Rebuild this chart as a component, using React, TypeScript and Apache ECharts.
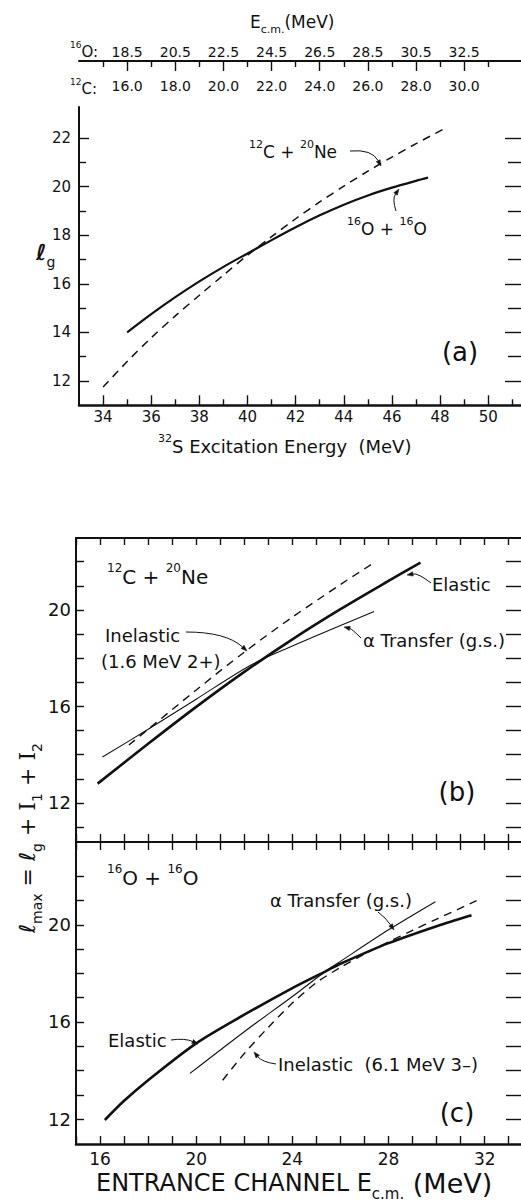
import React, { useEffect, useRef } from "react";
import * as echarts from "echarts";

const INK = "#111";
const FONT = "DejaVu Sans";

// ---------- Panel (a): l_g vs 32S excitation energy ----------
const aExO16 = [35, 36, 37, 38, 39, 40, 41, 42, 43, 44, 45, 46, 47, 47.5];
const aLgO16 = [14.0, 14.75, 15.45, 16.1, 16.7, 17.25, 17.8, 18.33, 18.82, 19.26, 19.64, 19.96, 20.24, 20.37];
const aExC12 = [34, 35, 36, 37, 38, 39, 40, 41, 42, 43, 44, 45, 46, 47, 48.2];
const aLgC12 = [11.75, 12.8, 13.78, 14.68, 15.53, 16.36, 17.18, 17.94, 18.68, 19.37, 20.02, 20.64, 21.22, 21.77, 22.4];

const aXMajor = [34, 36, 38, 40, 42, 44, 46, 48, 50];
const aXMinor = [35, 37, 39, 41, 43, 45, 47, 49, 51];
const aYMajor = [12, 14, 16, 18, 20, 22];
const aYMinor = [13, 15, 17, 19, 21];
const ecmTickEx = [35, 37, 39, 41, 43, 45, 47, 49];
const ecmShortEx = [34, 36, 38, 40, 42, 44, 46, 48, 50];
const ecmO16Labels = ["18.5", "20.5", "22.5", "24.5", "26.5", "28.5", "30.5", "32.5"];
const ecmC12Labels = ["16.0", "18.0", "20.0", "22.0", "24.0", "26.0", "28.0", "30.0"];

// ---------- Panel (b): 12C + 20Ne ----------
const bElE = [15.9, 18, 20, 22, 24, 26, 28, 29.33];
const bElL = [12.8, 14.45, 15.98, 17.43, 18.78, 20.03, 21.2, 21.96];
const bInE = [17.2, 18, 20, 22, 24, 26, 27.4];
const bInL = [14.4, 15.05, 16.68, 18.25, 19.7, 21.05, 21.96];
const bAlE = [16.1, 18, 20, 22.28, 24, 26, 27.4];
const bAlL = [13.9, 15.05, 16.3, 17.72, 18.5, 19.35, 19.93];

// ---------- Panel (c): 16O + 16O ----------
const cElE = [16.2, 17, 18, 20, 22, 24, 25.4, 26, 28, 30, 31.45];
const cElL = [11.96, 12.75, 13.6, 15.12, 16.3, 17.4, 18.1, 18.4, 19.25, 19.95, 20.4];
const cAlE = [19.74, 22, 24, 25.4, 26, 28, 29.95];
const cAlL = [13.88, 15.6, 17.05, 18.1, 18.5, 19.8, 20.96];
const cInE = [21.1, 22, 23, 24, 25, 26, 27, 28, 29, 30, 31.66];
const cInL = [13.6, 14.7, 15.78, 16.78, 17.62, 18.25, 18.8, 19.3, 19.78, 20.24, 21.0];

const bcXTicks = [15, 16, 17, 18, 19, 20, 21, 22, 23, 24, 25, 26, 27, 28, 29, 30, 31, 32, 33];
const cXLabels = [16, 20, 24, 28, 32];
const bYTicks = [11, 12, 13, 14, 15, 16, 17, 18, 19, 20, 21, 22];
const cYTicks = [12, 13, 14, 15, 16, 17, 18, 19, 20, 21, 22];
const bcYLabels = [12, 16, 20];

const pairs = (xs: number[], ys: number[]) => xs.map((x, i) => [x, ys[i]]);

const tick = (vals: number[], len: number) => ({
  show: true,
  inside: true,
  length: len,
  customValues: vals,
  lineStyle: { color: INK, width: 1.4 },
});
const label = (vals: number[], F: number, margin: number, extra: any = {}) => ({
  show: true,
  customValues: vals,
  fontSize: F,
  margin,
  color: INK,
  fontFamily: FONT,
  ...extra,
});
const aLine = (show: boolean, w = 2) => ({ show, onZero: false, lineStyle: { color: INK, width: w } });
const off = { show: false };

const rich = (F: number, extra: any = {}) => ({
  n: { fontSize: F, lineHeight: Math.round(F * 1.5), verticalAlign: "middle", fontFamily: FONT, fill: INK, ...extra },
  u: { fontSize: Math.round(F * 0.62), lineHeight: 4, verticalAlign: "top", fontFamily: FONT, fill: INK },
  d: { fontSize: Math.round(F * 0.62), lineHeight: 4, verticalAlign: "bottom", fontFamily: FONT, fill: INK },
  s: { fontSize: F, lineHeight: Math.round(F * 1.5), verticalAlign: "middle", fontFamily: "DejaVu Serif", fill: INK },
  b: { fontSize: Math.round(F * 1.12), lineHeight: Math.round(F * 1.5), verticalAlign: "middle", fontFamily: FONT, fill: INK },
});

const txt = (x: number, y: number, text: string, F: number, extra: any = {}, richExtra: any = {}) => ({
  type: "text",
  x,
  y,
  silent: true,
  ...extra,
  style: {
    text,
    fill: INK,
    fontSize: F,
    fontFamily: FONT,
    rich: rich(F, richExtra),
    align: extra.align || "left",
    verticalAlign: "middle",
  },
});

const arrow = (from: number[], cp: number[], to: number[]) => {
  const dx = to[0] - cp[0];
  const dy = to[1] - cp[1];
  const L = Math.hypot(dx, dy) || 1;
  const ux = dx / L;
  const uy = dy / L;
  const len = 6;
  const w = 2.2;
  const bx = to[0] - ux * len;
  const by = to[1] - uy * len;
  return [
    {
      type: "bezierCurve",
      silent: true,
      shape: { x1: from[0], y1: from[1], cpx1: cp[0], cpy1: cp[1], x2: bx, y2: by },
      style: { stroke: INK, lineWidth: 1, fill: null },
    },
    {
      type: "polygon",
      silent: true,
      shape: { points: [to, [bx - uy * w, by + ux * w], [bx + uy * w, by - ux * w]] },
      style: { fill: INK, stroke: INK, lineWidth: 0.5 },
    },
  ];
};

const lineSeries = (data: number[][], xi: number, yi: number, width: number, dashed = false) => ({
  type: "line",
  xAxisIndex: xi,
  yAxisIndex: yi,
  data,
  showSymbol: false,
  smooth: 0.3,
  lineStyle: { color: INK, width, type: dashed ? [8, 6] : "solid" },
  z: 5,
});

const A_MAX = 51.36;
const BC_MAX = 33.51;

export default function App() {
  const ref = useRef<HTMLDivElement>(null);
  useEffect(() => {
    if (!ref.current) return;
    const chart = echarts.init(ref.current, null, { renderer: "svg" });
    const option: any = {
      animation: false,
      backgroundColor: "#fff",
      grid: [
        { left: 79, top: 107, width: 451, height: 298.3 },
        { left: 76, top: 538, width: 454, height: 304 },
        { left: 76, top: 842, width: 454, height: 302 },
      ],
      xAxis: [
        { type: "value", gridIndex: 0, position: "bottom", min: 33, max: A_MAX, axisLine: aLine(true, 2.5), axisTick: tick(aXMajor, 10), axisLabel: label(aXMajor, 15, 4), splitLine: off },
        { type: "value", gridIndex: 0, position: "bottom", min: 33, max: A_MAX, axisLine: aLine(false), axisTick: tick(aXMinor, 6), axisLabel: off, splitLine: off },
        {
          type: "value", gridIndex: 0, position: "top", offset: 46, min: 33, max: A_MAX,
          axisLine: aLine(true, 2), axisTick: tick(ecmTickEx, 10),
          axisLabel: label(ecmTickEx, 14, 2, { formatter: (v: number) => ecmO16Labels[ecmTickEx.indexOf(v)] || "" }),
          splitLine: off,
        },
        {
          type: "value", gridIndex: 0, position: "top", offset: 46, min: 33, max: A_MAX,
          axisLine: aLine(false), axisTick: tick(ecmShortEx, 6),
          axisLabel: label(ecmTickEx, 14, 18, { inside: true, formatter: (v: number) => ecmC12Labels[ecmTickEx.indexOf(v)] || "" }),
          splitLine: off,
        },
        { type: "value", gridIndex: 1, position: "top", min: 15, max: BC_MAX, axisLine: aLine(true, 2), axisTick: tick(bcXTicks, 7), axisLabel: off, splitLine: off },
        { type: "value", gridIndex: 1, position: "bottom", min: 15, max: BC_MAX, axisLine: aLine(true, 2), axisTick: tick(bcXTicks, 8), axisLabel: off, splitLine: off },
        { type: "value", gridIndex: 2, position: "top", min: 15, max: BC_MAX, axisLine: aLine(false), axisTick: tick(bcXTicks, 8), axisLabel: off, splitLine: off },
        { type: "value", gridIndex: 2, position: "bottom", min: 15, max: BC_MAX, axisLine: aLine(true, 2.5), axisTick: tick(bcXTicks, 8), axisLabel: label(cXLabels, 17, 6), splitLine: off },
      ],
      yAxis: [
        { type: "value", gridIndex: 0, position: "left", min: 11, max: 23.28, axisLine: aLine(true, 2), axisTick: tick(aYMajor, 10), axisLabel: label(aYMajor, 15, 8), splitLine: off },
        { type: "value", gridIndex: 0, position: "left", min: 11, max: 23.28, axisLine: aLine(false), axisTick: tick(aYMinor, 7), axisLabel: off, splitLine: off },
        { type: "value", gridIndex: 0, position: "right", min: 11, max: 23.28, axisLine: aLine(false), axisTick: tick(aYMajor, 16), axisLabel: off, splitLine: off },
        { type: "value", gridIndex: 0, position: "right", min: 11, max: 23.28, axisLine: aLine(false), axisTick: tick(aYMinor, 13), axisLabel: off, splitLine: off },
        { type: "value", gridIndex: 1, position: "left", min: 10.38, max: 22.98, axisLine: aLine(true, 2), axisTick: tick(bYTicks, 8), axisLabel: label(bcYLabels, 18, 5), splitLine: off },
        { type: "value", gridIndex: 1, position: "right", min: 10.38, max: 22.98, axisLine: aLine(false), axisTick: tick(bYTicks, 15), axisLabel: off, splitLine: off },
        { type: "value", gridIndex: 2, position: "left", min: 10.97, max: 23.42, axisLine: aLine(true, 2), axisTick: tick(cYTicks, 8), axisLabel: label(bcYLabels, 18, 5), splitLine: off },
        { type: "value", gridIndex: 2, position: "right", min: 10.97, max: 23.42, axisLine: aLine(false), axisTick: tick(cYTicks, 15), axisLabel: off, splitLine: off },
      ],
      series: [
        lineSeries(pairs(aExO16, aLgO16), 0, 0, 2.2),
        lineSeries(pairs(aExC12, aLgC12), 0, 0, 1.5, true),
        lineSeries(pairs(bElE, bElL), 5, 4, 2.6),
        lineSeries(pairs(bInE, bInL), 5, 4, 1.4, true),
        lineSeries(pairs(bAlE, bAlL), 5, 4, 1.1),
        lineSeries(pairs(cElE, cElL), 7, 6, 2.6),
        lineSeries(pairs(cInE, cInL), 7, 6, 1.4, true),
        lineSeries(pairs(cAlE, cAlL), 7, 6, 1.1),
      ],
      graphic: [
        // panel (a) header & axis titles
        txt(250, 22, "{n|E}{d|c.m.}{n|(MeV)}", 17),
        txt(70, 52, "{u|16}{n|O:}", 15),
        txt(70, 89, "{u|12}{n|C:}", 15),
        txt(36, 252, "{n|ℓ}{d|g}", 22, {}, { fontWeight: "bold" }),
        txt(158, 446, "{u|32}{n|S Excitation Energy  (MeV)}", 18),
        txt(249, 152, "{u|12}{n|C + }{u|20}{n|Ne}", 17),
        txt(347, 229, "{u|16}{n|O + }{u|16}{n|O}", 17),
        txt(460, 352, "{n|(a)}", 26, { align: "center" }),
        ...arrow([350, 151], [372, 149], [381, 166]),
        ...arrow([396, 211], [392, 199], [399, 189]),
        // panel (b)
        txt(107, 577, "{u|12}{n|C + }{u|20}{n|Ne}", 20),
        txt(432, 584, "{n|Elastic}", 18),
        txt(105, 635, "{n|Inelastic}", 18),
        txt(101, 661, "{n|(1.6 MeV 2+)}", 18),
        txt(363, 640, "{n|α Transfer (g.s.)}", 18),
        txt(457, 792, "{n|(b)}", 26, { align: "center" }),
        ...arrow([431, 583], [418, 573], [407, 575]),
        ...arrow([186, 632], [226, 632], [247, 651]),
        ...arrow([361, 638], [352, 629], [344, 627]),
        // panel (c)
        txt(107, 878, "{u|16}{n|O + }{u|16}{n|O}", 20),
        txt(270, 900, "{n|α Transfer (g.s.)}", 18),
        txt(108, 1040, "{n|Elastic}", 18),
        txt(278, 1064, "{n|Inelastic  (6.1 MeV 3–)}", 18),
        txt(457, 1113, "{n|(c)}", 26, { align: "center" }),
        ...arrow([378, 912], [386, 918], [394, 930]),
        ...arrow([171, 1040], [185, 1038], [198, 1044]),
        ...arrow([276, 1064], [262, 1062], [254, 1052]),
        // shared titles
        txt(96, 1183, "{n|ENTRANCE CHANNEL E}{d|c.m.}{b| (MeV)}", 24),
        txt(27, 838, "{n|ℓ}{d|max}{n| = ℓ}{d|g}{n| + }{s|I}{d|1}{n| + }{s|I}{d|2}", 22, { align: "center", rotation: Math.PI / 2 }),
      ],
    };
    chart.setOption(option);
    return () => chart.dispose();
  }, []);
  return (
    <div
      ref={ref}
      style={{ position: "absolute", left: 0, top: 0, width: 521, height: 1203, background: "#fff" }}
    />
  );
}
